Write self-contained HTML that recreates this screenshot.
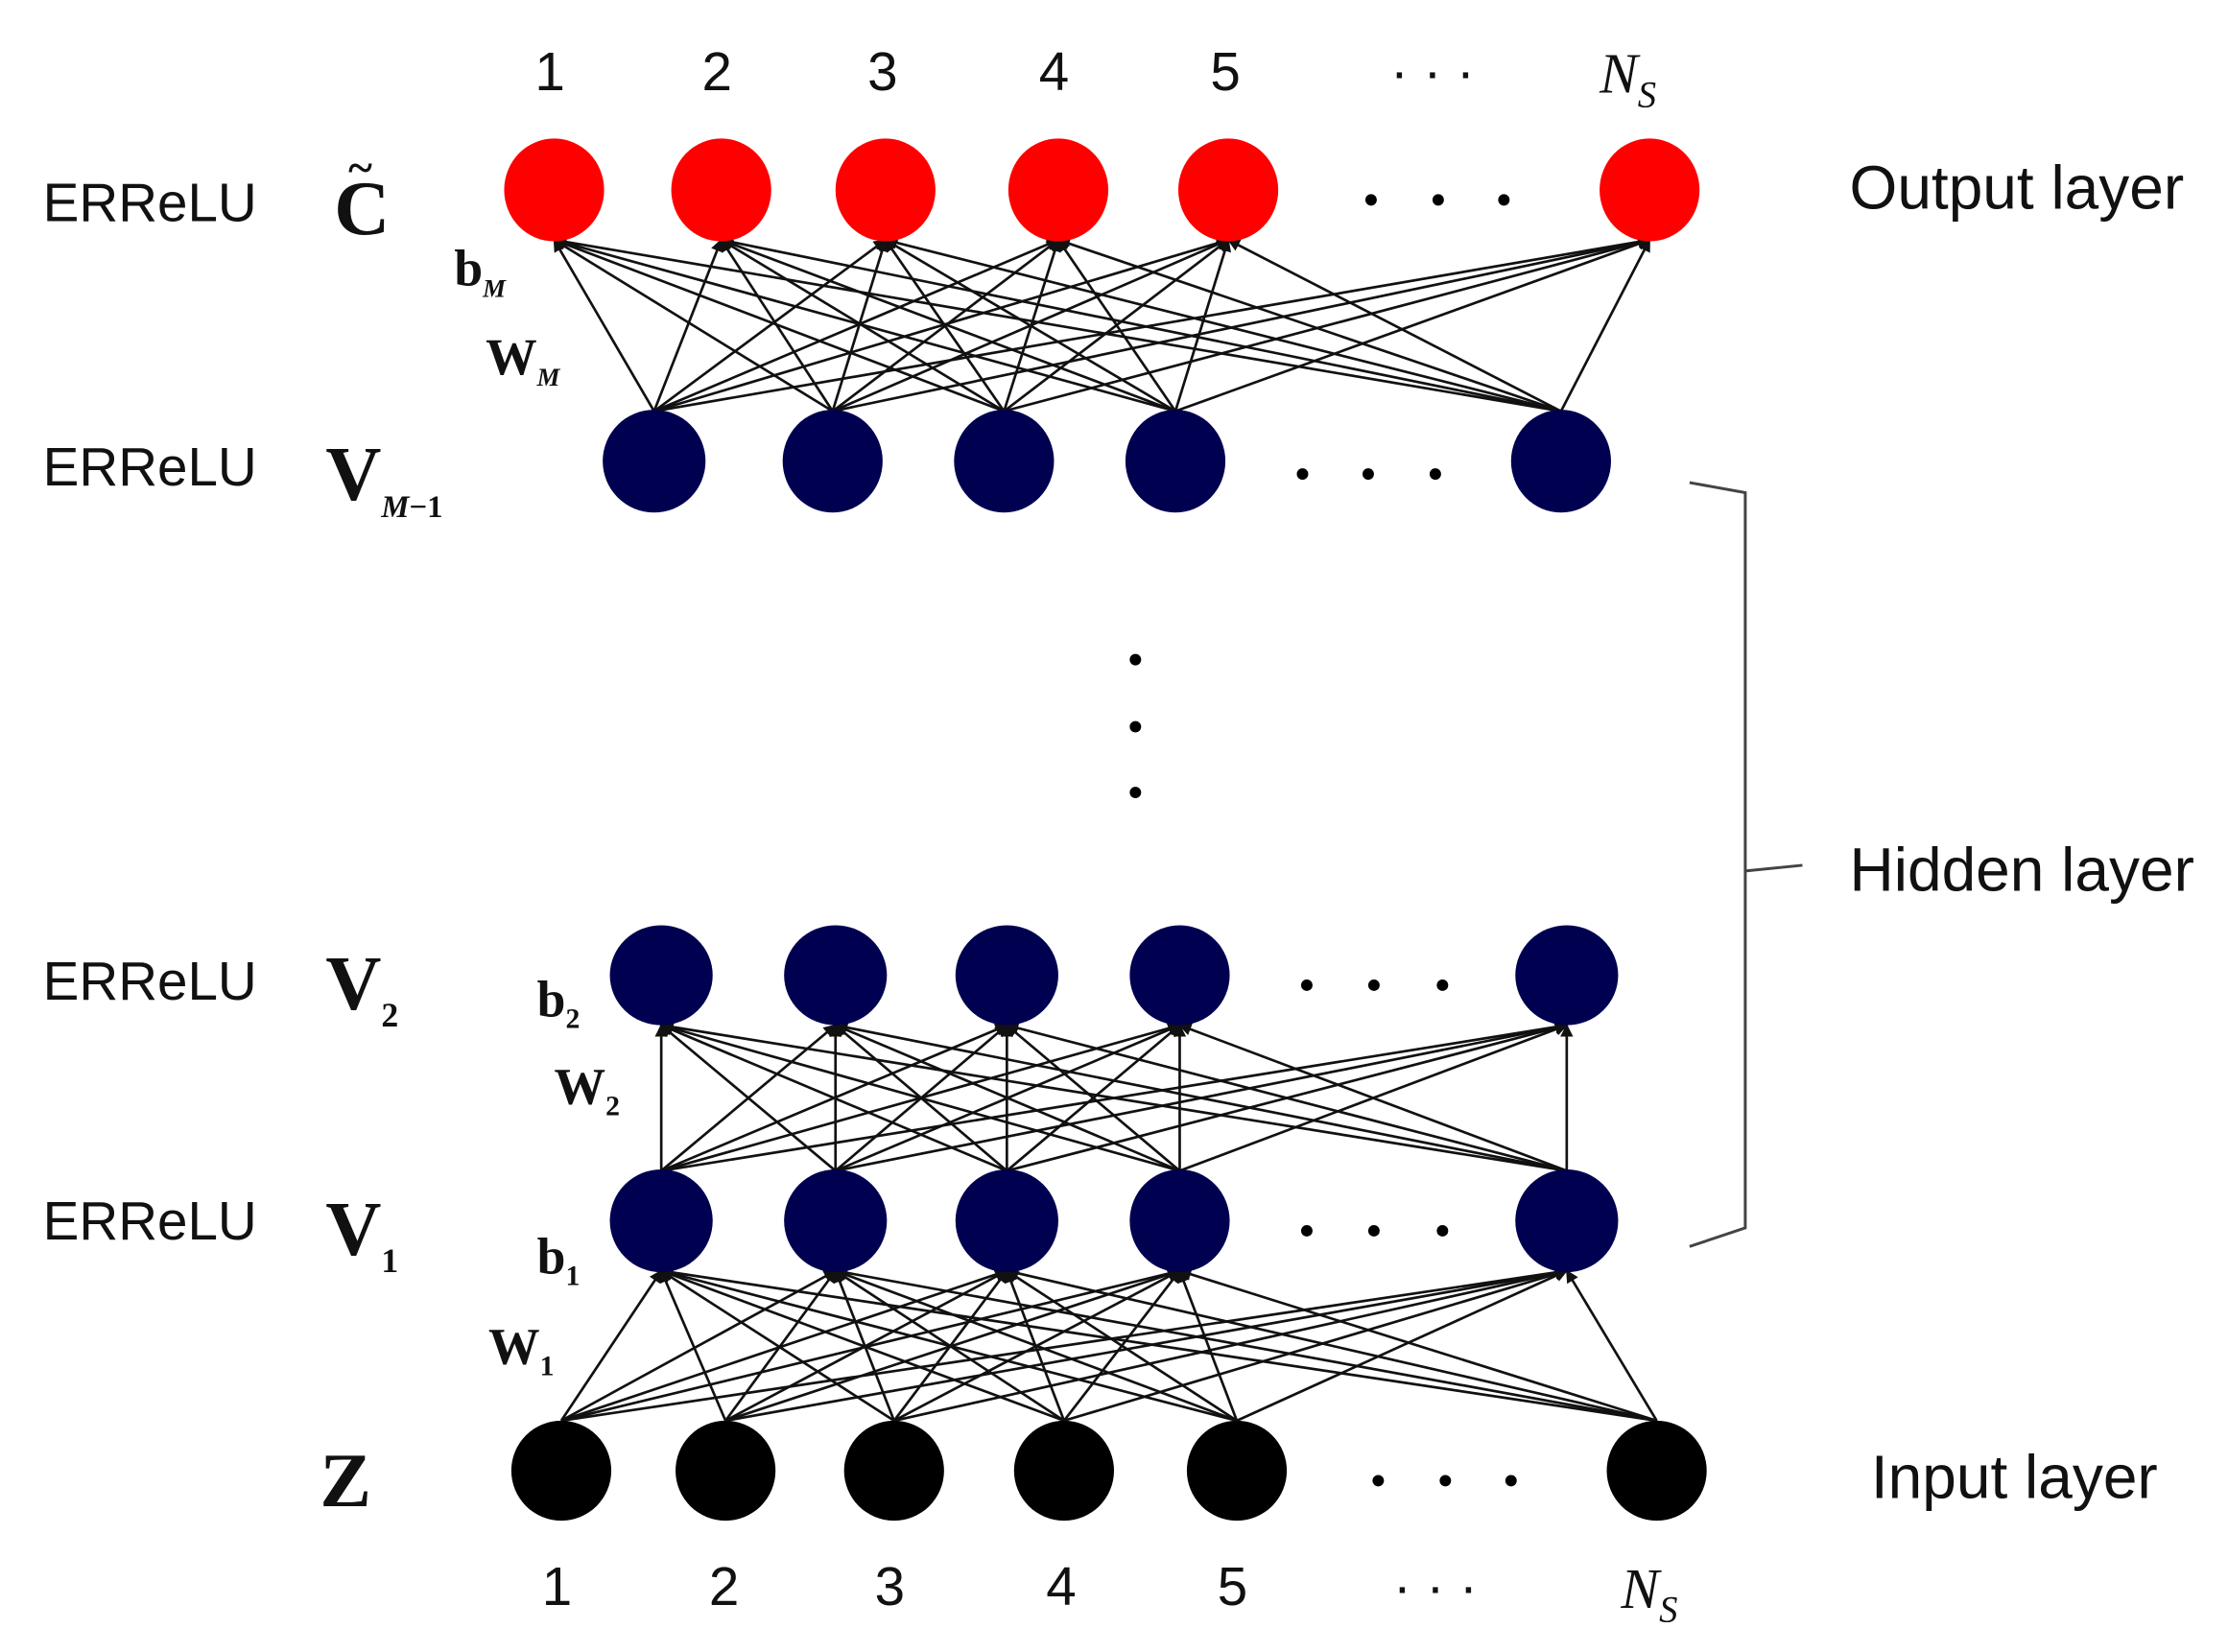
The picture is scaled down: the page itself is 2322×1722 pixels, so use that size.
<!DOCTYPE html>
<html><head><meta charset="utf-8"><style>
html,body{margin:0;padding:0;background:#fff;}
svg{display:block;}
text{font-family:"Liberation Sans",sans-serif;}
.s text{font-family:"Liberation Serif",serif;font-weight:bold;}
</style></head><body>
<svg width="2322" height="1722" viewBox="0 0 1560 1157" preserveAspectRatio="none" xmlns="http://www.w3.org/2000/svg">
<defs><marker id="a" markerWidth="9" markerHeight="9" refX="8" refY="4.5" orient="auto" markerUnits="userSpaceOnUse"><path d="M0,0 L9,4.5 L0,9 z" fill="#111"/></marker></defs>
<g stroke="#111" stroke-width="1.8" marker-end="url(#a)">
<line x1="458" y1="288" x2="388" y2="168"/><line x1="458" y1="288" x2="505" y2="168"/><line x1="458" y1="288" x2="620" y2="168"/><line x1="458" y1="288" x2="741" y2="168"/><line x1="458" y1="288" x2="860" y2="168"/><line x1="458" y1="288" x2="1155" y2="168"/>
<line x1="583" y1="288" x2="388" y2="168"/><line x1="583" y1="288" x2="505" y2="168"/><line x1="583" y1="288" x2="620" y2="168"/><line x1="583" y1="288" x2="741" y2="168"/><line x1="583" y1="288" x2="860" y2="168"/><line x1="583" y1="288" x2="1155" y2="168"/>
<line x1="703" y1="288" x2="388" y2="168"/><line x1="703" y1="288" x2="505" y2="168"/><line x1="703" y1="288" x2="620" y2="168"/><line x1="703" y1="288" x2="741" y2="168"/><line x1="703" y1="288" x2="860" y2="168"/><line x1="703" y1="288" x2="1155" y2="168"/>
<line x1="823" y1="288" x2="388" y2="168"/><line x1="823" y1="288" x2="505" y2="168"/><line x1="823" y1="288" x2="620" y2="168"/><line x1="823" y1="288" x2="741" y2="168"/><line x1="823" y1="288" x2="860" y2="168"/><line x1="823" y1="288" x2="1155" y2="168"/>
<line x1="1093" y1="288" x2="388" y2="168"/><line x1="1093" y1="288" x2="505" y2="168"/><line x1="1093" y1="288" x2="620" y2="168"/><line x1="1093" y1="288" x2="741" y2="168"/><line x1="1093" y1="288" x2="860" y2="168"/><line x1="1093" y1="288" x2="1155" y2="168"/>
<line x1="463" y1="820" x2="463" y2="718"/><line x1="463" y1="820" x2="585" y2="718"/><line x1="463" y1="820" x2="705" y2="718"/><line x1="463" y1="820" x2="826" y2="718"/><line x1="463" y1="820" x2="1097" y2="718"/>
<line x1="585" y1="820" x2="463" y2="718"/><line x1="585" y1="820" x2="585" y2="718"/><line x1="585" y1="820" x2="705" y2="718"/><line x1="585" y1="820" x2="826" y2="718"/><line x1="585" y1="820" x2="1097" y2="718"/>
<line x1="705" y1="820" x2="463" y2="718"/><line x1="705" y1="820" x2="585" y2="718"/><line x1="705" y1="820" x2="705" y2="718"/><line x1="705" y1="820" x2="826" y2="718"/><line x1="705" y1="820" x2="1097" y2="718"/>
<line x1="826" y1="820" x2="463" y2="718"/><line x1="826" y1="820" x2="585" y2="718"/><line x1="826" y1="820" x2="705" y2="718"/><line x1="826" y1="820" x2="826" y2="718"/><line x1="826" y1="820" x2="1097" y2="718"/>
<line x1="1097" y1="820" x2="463" y2="718"/><line x1="1097" y1="820" x2="585" y2="718"/><line x1="1097" y1="820" x2="705" y2="718"/><line x1="1097" y1="820" x2="826" y2="718"/><line x1="1097" y1="820" x2="1097" y2="718"/>
<line x1="393" y1="995" x2="463" y2="890"/><line x1="393" y1="995" x2="585" y2="890"/><line x1="393" y1="995" x2="705" y2="890"/><line x1="393" y1="995" x2="826" y2="890"/><line x1="393" y1="995" x2="1097" y2="890"/>
<line x1="508" y1="995" x2="463" y2="890"/><line x1="508" y1="995" x2="585" y2="890"/><line x1="508" y1="995" x2="705" y2="890"/><line x1="508" y1="995" x2="826" y2="890"/><line x1="508" y1="995" x2="1097" y2="890"/>
<line x1="626" y1="995" x2="463" y2="890"/><line x1="626" y1="995" x2="585" y2="890"/><line x1="626" y1="995" x2="705" y2="890"/><line x1="626" y1="995" x2="826" y2="890"/><line x1="626" y1="995" x2="1097" y2="890"/>
<line x1="745" y1="995" x2="463" y2="890"/><line x1="745" y1="995" x2="585" y2="890"/><line x1="745" y1="995" x2="705" y2="890"/><line x1="745" y1="995" x2="826" y2="890"/><line x1="745" y1="995" x2="1097" y2="890"/>
<line x1="866" y1="995" x2="463" y2="890"/><line x1="866" y1="995" x2="585" y2="890"/><line x1="866" y1="995" x2="705" y2="890"/><line x1="866" y1="995" x2="826" y2="890"/><line x1="866" y1="995" x2="1097" y2="890"/>
<line x1="1160" y1="995" x2="463" y2="890"/><line x1="1160" y1="995" x2="585" y2="890"/><line x1="1160" y1="995" x2="705" y2="890"/><line x1="1160" y1="995" x2="826" y2="890"/><line x1="1160" y1="995" x2="1097" y2="890"/>
</g>
<g fill="#ff0000">
<ellipse cx="388" cy="133" rx="35" ry="36"/><ellipse cx="505" cy="133" rx="35" ry="36"/><ellipse cx="620" cy="133" rx="35" ry="36"/><ellipse cx="741" cy="133" rx="35" ry="36"/><ellipse cx="860" cy="133" rx="35" ry="36"/><ellipse cx="1155" cy="133" rx="35" ry="36"/>
</g>
<g fill="#000050">
<ellipse cx="458" cy="323" rx="36" ry="36"/><ellipse cx="583" cy="323" rx="35" ry="36"/><ellipse cx="703" cy="323" rx="35" ry="36"/><ellipse cx="823" cy="323" rx="35" ry="36"/><ellipse cx="1093" cy="323" rx="35" ry="36"/>
<ellipse cx="463" cy="683" rx="36" ry="35"/><ellipse cx="585" cy="683" rx="36" ry="35"/><ellipse cx="705" cy="683" rx="36" ry="35"/><ellipse cx="826" cy="683" rx="35" ry="35"/><ellipse cx="1097" cy="683" rx="36" ry="35"/>
<ellipse cx="463" cy="855" rx="36" ry="36"/><ellipse cx="585" cy="855" rx="36" ry="36"/><ellipse cx="705" cy="855" rx="36" ry="36"/><ellipse cx="826" cy="855" rx="35" ry="36"/><ellipse cx="1097" cy="855" rx="36" ry="36"/>
</g>
<g fill="#000">
<ellipse cx="393" cy="1030" rx="35" ry="35"/><ellipse cx="508" cy="1030" rx="35" ry="35"/><ellipse cx="626" cy="1030" rx="35" ry="35"/><ellipse cx="745" cy="1030" rx="35" ry="35"/><ellipse cx="866" cy="1030" rx="35" ry="35"/><ellipse cx="1160" cy="1030" rx="35" ry="35"/>
<circle cx="960" cy="140" r="4"/><circle cx="1007" cy="140" r="4"/><circle cx="1053" cy="140" r="4"/>
<circle cx="912" cy="332" r="4"/><circle cx="958" cy="332" r="4"/><circle cx="1005" cy="332" r="4"/>
<circle cx="795" cy="462" r="4"/><circle cx="795" cy="509" r="4"/><circle cx="795" cy="555" r="4"/>
<circle cx="915" cy="690" r="4"/><circle cx="962" cy="690" r="4"/><circle cx="1010" cy="690" r="4"/>
<circle cx="915" cy="862" r="4"/><circle cx="962" cy="862" r="4"/><circle cx="1010" cy="862" r="4"/>
<circle cx="965" cy="1037" r="4"/><circle cx="1012" cy="1037" r="4"/><circle cx="1058" cy="1037" r="4"/>
</g>
<path d="M1183,338 L1222,345 L1222,860 L1183,873 M1222,610 L1262,606" fill="none" stroke="#444" stroke-width="2"/>
<g font-size="38" fill="#111">
<text x="30" y="155">ERReLU</text><text x="30" y="340">ERReLU</text><text x="30" y="700">ERReLU</text><text x="30" y="868">ERReLU</text>
</g>
<g font-size="43" fill="#111">
<text x="1295" y="146">Output layer</text><text x="1295" y="624">Hidden layer</text><text x="1310" y="1049">Input layer</text>
</g>
<g font-size="38" fill="#111" text-anchor="middle">
<text x="385" y="63">1</text><text x="502" y="63">2</text><text x="618" y="63">3</text><text x="738" y="63">4</text><text x="858" y="63">5</text><text x="1003" y="63">· · ·</text>
<text x="390" y="1124">1</text><text x="507" y="1124">2</text><text x="623" y="1124">3</text><text x="743" y="1124">4</text><text x="863" y="1124">5</text><text x="1005" y="1124">· · ·</text>
</g>
<g class="s" fill="#111">
<text x="1120" y="65" font-size="40" font-style="italic" style="font-weight:normal">N<tspan font-size="26" dy="10">S</tspan></text>
<text x="1135" y="1126" font-size="40" font-style="italic" style="font-weight:normal">N<tspan font-size="26" dy="10">S</tspan></text>
<text x="234" y="164" font-size="54">C</text><text x="244" y="128" font-size="32">~</text>
<text x="228" y="350" font-size="54">V<tspan font-size="22" dy="12" font-style="italic">M</tspan><tspan font-size="22">−1</tspan></text>
<text x="228" y="707" font-size="54">V<tspan font-size="24" dy="12">2</tspan></text>
<text x="228" y="879" font-size="54">V<tspan font-size="24" dy="12">1</tspan></text>
<text x="224" y="1055" font-size="54">Z</text>
<text x="318" y="200" font-size="36">b<tspan font-size="18" dy="8" font-style="italic">M</tspan></text>
<text x="340" y="262" font-size="36">W<tspan font-size="18" dy="8" font-style="italic">M</tspan></text>
<text x="376" y="712" font-size="36">b<tspan font-size="20" dy="8">2</tspan></text>
<text x="388" y="773" font-size="36">W<tspan font-size="20" dy="8">2</tspan></text>
<text x="376" y="892" font-size="36">b<tspan font-size="20" dy="8">1</tspan></text>
<text x="342" y="955" font-size="36">W<tspan font-size="20" dy="8">1</tspan></text>
</g>
</svg>
</body></html>
